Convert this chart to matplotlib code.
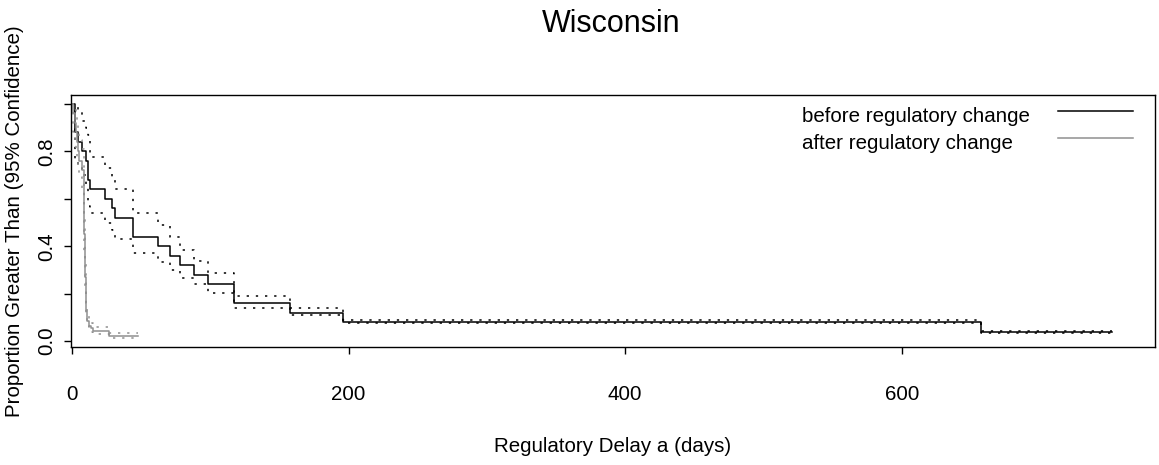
import matplotlib
matplotlib.use("Agg")
import matplotlib.pyplot as plt
import numpy as np

plt.rcParams['font.family'] = ['Liberation Sans', 'DejaVu Sans']

# ---- data ----
before_t = [0, 2, 4.7, 7.6, 10, 11.5, 13, 24, 28.8, 30.8, 44, 62.3, 70.8, 78,
            88.2, 98, 117.3, 157.3, 196, 657]
before_s = [1.0, 0.88, 0.84, 0.80, 0.76, 0.68, 0.64, 0.60, 0.56, 0.52, 0.44,
            0.40, 0.36, 0.32, 0.28, 0.24, 0.16, 0.12, 0.08, 0.04]
before_up = [1.0, 1.0, 0.97, 0.93, 0.90, 0.87, 0.775, 0.73, 0.69, 0.64, 0.54,
             0.49, 0.44, 0.385, 0.337, 0.288, 0.19, 0.141, 0.09, 0.043]
before_lo = [1.0, 0.77, 0.737, 0.70, 0.65, 0.57, 0.54, 0.50, 0.47, 0.43, 0.37,
             0.335, 0.30, 0.267, 0.239, 0.204, 0.141, 0.112, 0.077, 0.036]
before_end = 752

after_t = [0, 1.1, 2.0, 2.8, 3.5, 4.3, 5.2, 6.9, 8.8, 9.0, 9.3, 10.3, 11.0,
           12.2, 13.5, 15.0, 27.0]
after_s = [1.0, 0.96, 0.92, 0.88, 0.84, 0.80, 0.76, 0.72, 0.60, 0.45, 0.27,
           0.126, 0.084, 0.063, 0.056, 0.042, 0.021]
after_up = [1.0, 1.0, 0.99, 0.96, 0.93, 0.89, 0.85, 0.81, 0.69, 0.54, 0.33,
            0.16, 0.11, 0.085, 0.075, 0.058, 0.032]
after_lo = [1.0, 0.88, 0.83, 0.80, 0.76, 0.72, 0.69, 0.64, 0.52, 0.37, 0.22,
            0.10, 0.062, 0.045, 0.04, 0.028, 0.012]
after_end = 48

x_ticks = [0, 200, 400, 600]
y_ticks = [0.0, 0.2, 0.4, 0.6, 0.8, 1.0]
y_ticklabels = ["0.0", "", "0.4", "", "0.8", ""]

title = "Wisconsin"
xlabel = "Regulatory Delay a (days)"
ylabel = "Proportion Greater Than (95% Confidence)"
legend_labels = ["before regulatory change", "after regulatory change"]

# ---- figure ----
W, H = 1159, 465
fig = plt.figure(figsize=(W / 100, H / 100), dpi=100)
ax = fig.add_axes([71 / W, 1 - 347 / H, (1155 - 71) / W, (347 - 95) / H])

BLACK = "#000000"
GRAY = "#8f8f8f"
LW = 1.1
DOT = (0, (1.5, 4.5))


def steps(t, v, end):
    tt = np.append(np.asarray(t, float), end)
    vv = np.append(np.asarray(v, float), v[-1])
    return tt, vv


for t, s, up, lo, end, col in [
    (before_t, before_s, before_up, before_lo, before_end, BLACK),
    (after_t, after_s, after_up, after_lo, after_end, GRAY),
]:
    ax.step(*steps(t, s, end), where="post", color=col, lw=LW)
    ax.step(*steps(t, up, end), where="post", color=col, lw=LW, linestyle=DOT)
    ax.step(*steps(t, lo, end), where="post", color=col, lw=LW, linestyle=DOT)

ax.set_xlim(-0.7, 783)
ax.set_ylim(-0.025, 1.038)

ax.set_xticks(x_ticks)
ax.set_xticklabels([str(v) for v in x_ticks])
ax.set_yticks(y_ticks)
ax.set_yticklabels(y_ticklabels, rotation=90, va="center")

ax.tick_params(axis="x", direction="out", length=5, width=1, labelsize=14.8, pad=22)
ax.tick_params(axis="y", direction="out", length=5, width=1, labelsize=14.8, pad=5.5)
for sp in ax.spines.values():
    sp.set_linewidth(1.0)

# titles / labels
fig.text(611 / W, 1 - 24 / H, title, ha="center", va="center", fontsize=22)
fig.text(613 / W, 1 - 446 / H, xlabel, ha="center", va="center", fontsize=14.8)
fig.text(15 / W, 1 - 221 / H, ylabel, ha="center", va="center",
         rotation=90, fontsize=14.8)

# legend (no box)
for i, (lab, col) in enumerate(zip(legend_labels, [BLACK, GRAY])):
    ytext = 122 + i * 27
    yline = 111 + i * 27.5
    fig.text(802 / W, 1 - ytext / H, lab, ha="left", va="baseline", fontsize=14.8)
    fig.add_artist(plt.Line2D([1058 / W, 1133 / W], [1 - yline / H, 1 - yline / H],
                              transform=fig.transFigure, color=col, lw=LW))

fig.savefig("out.png", dpi=100)
